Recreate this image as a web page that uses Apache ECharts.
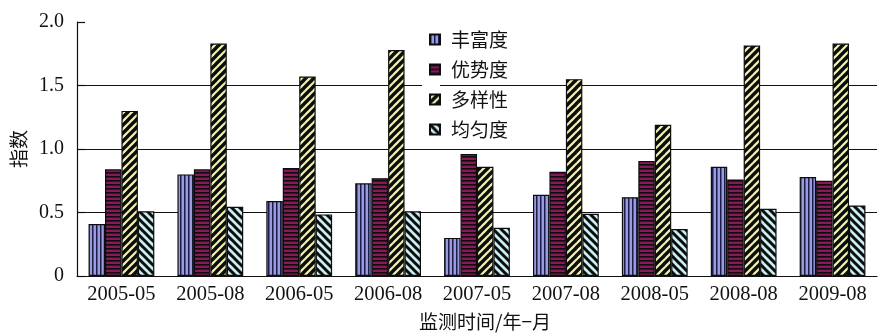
<!DOCTYPE html>
<html>
<head>
<meta charset="utf-8">
<script src="https://cdn.jsdelivr.net/npm/echarts@6/dist/echarts.min.js"></script>
<style>
  html, body { margin: 0; padding: 0; background: #fff; }
  #chart { width: 880px; height: 336px; }
</style>
</head>
<body>
<div id="chart"></div>
<script>
// Monitoring periods (year-month)
const categories = ['2005-05', '2005-08', '2006-05', '2006-08', '2007-05', '2007-08', '2008-05', '2008-08', '2009-08'];

// Index values per period
const richness  = [0.41, 0.80, 0.59, 0.73, 0.30, 0.64, 0.62, 0.86, 0.78]; // 丰富度
const dominance = [0.84, 0.84, 0.85, 0.77, 0.96, 0.82, 0.905, 0.76, 0.75]; // 优势度
const diversity = [1.30, 1.83, 1.57, 1.78, 0.86, 1.55, 1.19, 1.815, 1.83]; // 多样性
const evenness  = [0.51, 0.545, 0.485, 0.51, 0.38, 0.49, 0.37, 0.53, 0.555]; // 均匀度

const seriesNames = ['丰富度', '优势度', '多样性', '均匀度'];
const yTicks = [0, 0.5, 1.0, 1.5, 2.0];

// Striped fill textures drawn on small repeating canvas tiles
function stripes(kind, bg, fg, period, width) {
  const c = document.createElement('canvas');
  const s = period;
  c.width = s; c.height = s;
  const g = c.getContext('2d');
  g.fillStyle = bg;
  g.fillRect(0, 0, s, s);
  g.fillStyle = fg;
  g.strokeStyle = fg;
  if (kind === 'vertical') {
    g.fillRect(0, 0, width, s);
  } else if (kind === 'horizontal') {
    g.fillRect(0, 0, s, width);
  } else {
    g.lineWidth = width;
    g.lineCap = 'square';
    for (let k = -1; k <= 1; k++) {
      g.beginPath();
      if (kind === 'up') {           // "/" direction
        g.moveTo(k * s - s, 2 * s);
        g.lineTo(k * s + 2 * s, -s);
      } else {                       // "\" direction
        g.moveTo(k * s - s, -s);
        g.lineTo(k * s + 2 * s, 2 * s);
      }
      g.stroke();
    }
  }
  return { image: c, repeat: 'repeat' };
}

const fills = [
  stripes('vertical', '#9a9ade', '#1c1c4a', 4.5, 1.5),
  stripes('horizontal', '#8a1858', '#0d0d0d', 4, 1.6),
  stripes('up', '#f2f2b8', '#0d0d0d', 8, 3.4),
  stripes('down', '#c8eef2', '#0d0d0d', 8, 3.0)
];
const values = [richness, dominance, diversity, evenness];

const serif = '"Liberation Serif", "Times New Roman", serif';
const cjk = '"Noto Sans CJK SC", sans-serif';

const chart = echarts.init(document.getElementById('chart'), null, { renderer: 'canvas' });

chart.setOption({
  animation: false,
  backgroundColor: '#fff',
  grid: { left: 77, right: 3, top: 22, bottom: 57, containLabel: false },
  legend: {
    orient: 'vertical',
    left: 424,
    top: 25,
    itemWidth: 10,
    itemHeight: 10,
    itemGap: 11,
    icon: 'rect',
    textStyle: { fontFamily: cjk, fontSize: 19, color: '#111', padding: [0, 0, 0, 6] },
    data: seriesNames
  },
  xAxis: {
    type: 'category',
    data: categories,
    name: '监测时间/年−月',
    nameLocation: 'middle',
    nameGap: 36,
    nameTextStyle: { fontFamily: cjk, fontSize: 19, color: '#111', padding: [0, 0, 0, 16] },
    axisLine: { lineStyle: { color: '#111', width: 1.2 } },
    axisTick: { inside: true, length: 7, lineStyle: { color: '#111', width: 1.2 } },
    axisLabel: { interval: 0, hideOverlap: false, fontFamily: serif, fontSize: 20.5, color: '#111', margin: 8 },
    splitLine: { show: false }
  },
  yAxis: {
    type: 'value',
    min: yTicks[0],
    max: yTicks[yTicks.length - 1],
    interval: 0.5,
    name: '指数',
    nameLocation: 'middle',
    nameRotate: 90,
    nameGap: 48,
    nameTextStyle: { fontFamily: cjk, fontSize: 19, color: '#111' },
    axisLine: { show: true, lineStyle: { color: '#111', width: 1.2 } },
    axisTick: { show: true, inside: true, length: 8, lineStyle: { color: '#111', width: 1.2 } },
    axisLabel: {
      fontFamily: serif, fontSize: 20, color: '#111', margin: 13,
      formatter: v => (v === 0 ? '0' : v.toFixed(1))
    },
    splitLine: { show: true, showMaxLine: false, lineStyle: { color: '#111', width: 1.2 } }
  },
  graphic: [{
    type: 'rect',
    shape: { x: 422, y: 82, width: 18, height: 6 },
    style: { fill: '#fff' },
    z: 50
  }],
  series: seriesNames.map((name, i) => ({
    name,
    type: 'bar',
    data: values[i],
    barGap: '0%',
    barCategoryGap: '26%',
    itemStyle: { color: fills[i], borderColor: '#0d0d0d', borderWidth: 1.2 },
    emphasis: { disabled: true }
  }))
});
</script>
</body>
</html>
